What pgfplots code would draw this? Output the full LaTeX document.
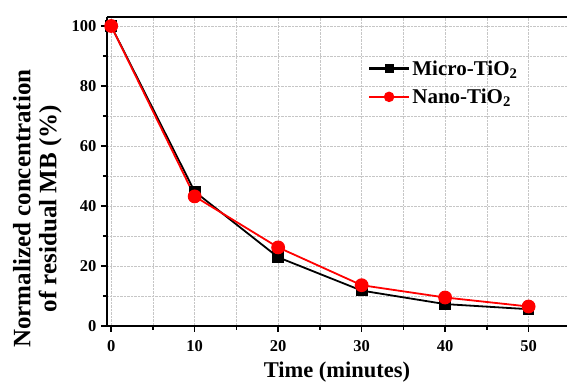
\documentclass[border=0pt]{standalone}
\usepackage{fontspec}
\setmainfont{Liberation Serif}
\usepackage{pgfplots}
\pgfplotsset{compat=1.18}
\begin{document}
\begin{tikzpicture}
\useasboundingbox (-107pt,-56pt) rectangle (460pt,326pt);
\begin{axis}[
  at={(0,0)}, anchor=south west,
  scale only axis, width=460pt, height=309pt,
  xmin=-0.5, xmax=54.6, ymin=0, ymax=103,
  axis x line*=bottom, axis y line*=left,
  axis line style={line width=1.6pt, -},
  xtick={0,10,20,30,40,50}, ytick={0,20,40,60,80,100},
  minor tick num=1,
  tick align=outside,
  major tick length=6pt, minor tick length=4pt,
  tick style={line width=1.4pt, black},
  grid=both,
  major grid style={densely dotted, gray!45, line width=0.5pt},
  minor grid style={densely dotted, gray!45, line width=0.5pt},
  /pgf/number format/assume math mode=true,
  ticklabel style={font=\bfseries\fontsize{16.5}{18}\selectfont},
  xticklabel style={yshift=-5pt},
  yticklabel style={xshift=-1pt},
  xlabel={Time (minutes)},
  xlabel style={font=\bfseries\fontsize{22.5}{25}\selectfont, yshift=-3pt},
  ylabel={\begin{tabular}{c}Normalized concentration\\[-2pt] of residual MB (\%)\end{tabular}},
  ylabel style={font=\bfseries\fontsize{25}{28}\selectfont, at={(ticklabel cs:0.38)}, xshift=0pt},
  legend style={draw=none, fill=none, at={(0.56,0.872)}, anchor=north west,
    font=\bfseries\fontsize{21}{24}\selectfont, row sep=8pt,
    /tikz/every even column/.append style={column sep=3pt}},
  legend image code/.code={
    \path[#1, draw, line width=2.6pt, mark=none] (0pt,0pt) -- (40pt,0pt);
    \draw[#1, every mark/.append style={scale=0.72}] plot coordinates {(20pt,0pt)};
  },
  legend cell align=left,
]
\addplot[black, line width=1.8pt, mark=square*, mark size=5pt, mark options={solid, fill=black}]
  coordinates {(0,100) (10,44.8) (20,22.9) (30,11.8) (40,7.3) (50,5.6)};
\addlegendentry{Micro-TiO\textsubscript{2}}
\addplot[red, line width=1.8pt, mark=*, mark size=6pt, mark options={solid, fill=red}]
  coordinates {(0,100) (10,43.2) (20,26.2) (30,13.6) (40,9.5) (50,6.5)};
\addlegendentry{Nano-TiO\textsubscript{2}}
\draw[line width=1.6pt] (rel axis cs:0,1) -- (rel axis cs:1.02,1);
\end{axis}
\end{tikzpicture}
\end{document}
